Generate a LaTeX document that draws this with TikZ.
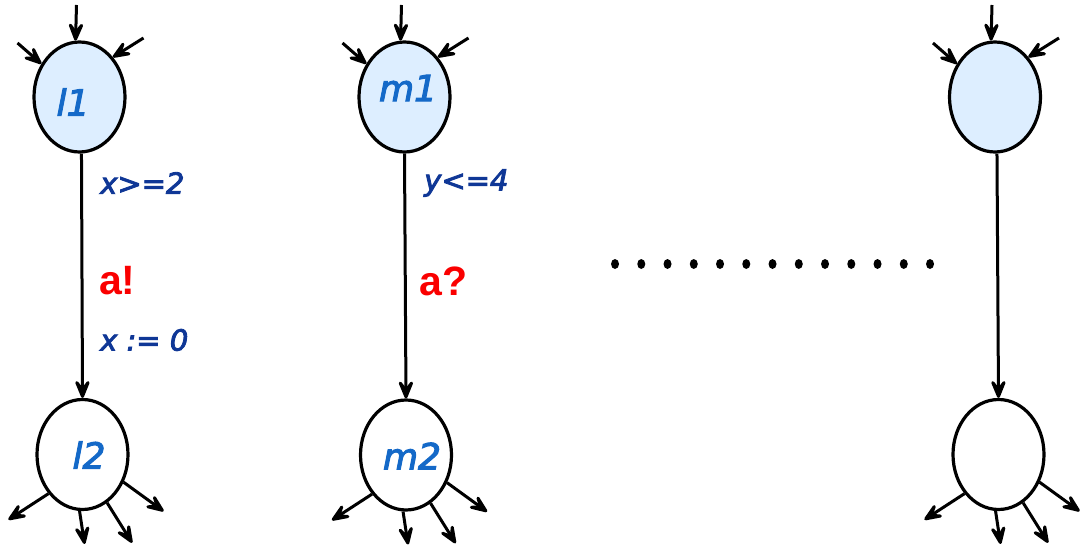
\documentclass[tikz,border=0pt]{standalone}
\usepackage{fontspec}
\setmainfont{DejaVu Sans}
\newfontfamily\labfont{DejaVu Sans Oblique}[FakeBold=3]
\newfontfamily\guardfont{DejaVu Sans Oblique}[FakeBold=3]
\newfontfamily\boldsans{Liberation Sans}
\usetikzlibrary{shapes.geometric,arrows.meta,calc}
\definecolor{locfill}{RGB}{221,238,255}
\definecolor{locblue}{RGB}{20,105,200}
\definecolor{guardblue}{RGB}{15,55,150}
\definecolor{syncred}{RGB}{250,0,0}
\tikzset{
  loc/.style={draw=black, ellipse, line width=3.2pt, minimum width=91pt, minimum height=110pt, inner sep=0pt},
  init/.style={loc, fill=locfill},
  loctext/.style={text=locblue, font=\labfont\fontsize{36}{40}\selectfont, inner sep=0pt},
  guard/.style={text=guardblue, font=\guardfont\fontsize{29}{34}\selectfont, inner sep=0pt, anchor=west},
  sync/.style={text=syncred, font=\boldsans\bfseries\fontsize{41}{46}\selectfont, inner sep=0pt, anchor=west},
  arr/.style={line width=3pt, -{Stealth[length=27pt,width=22pt,inset=14pt,round]}},
  dot/.style={fill=black, ellipse, inner sep=0pt, minimum width=8pt, minimum height=10pt}
}
\begin{document}
\begin{tikzpicture}[x=1pt,y=-1pt]
\useasboundingbox (0,0) rectangle (1087,548);
% column 1
\node[init] (l1) at (79.5,97) {};
\node[loc]  (l2) at (82.5,454.5) {};
\node[loctext] (l1t) at (73,102) {l1};
\node[loctext] (l2t) at (89,455) {l2};
% column 2
\node[init] (m1) at (404.5,97) {};
\node[loc]  (m2) at (406,455) {};
\node[loctext] (m1t) at (408,88) {m1};
\node[loctext] (m2t) at (412,456) {m2};
% column 3
\node[init] (n1) at (995,97) {};
\node[loc]  (n2) at (998.5,454.5) {};
% transitions
\draw[arr] (l1.-88) -- (l2.north);
\draw[arr] (m1.-90) -- (m2.north);
\draw[arr] (n1.-88) -- (n2.north);
% labels
\node[guard] (g1) at (100,183) {x>=2};
\node[sync]  (s1) at (99,281) {a!};
\node[guard] (u1) at (100,340) {x := 0};
\node[guard] (g2) at (424,183) {y<=4};
\node[sync]  (s2) at (419,281) {a?};
% dots
\foreach \i in {0,...,12} {
  \node[dot] (d\i) at ({615+\i*26.25},264) {};
}
% incoming arrows
\foreach \n/\cx in {l1/79.5,m1/404.5,n1/995} {
  \coordinate (\n-a) at ({\cx-3},5);
  \coordinate (\n-b) at ({\cx-62},43);
  \coordinate (\n-c) at ({\cx+64},38);
  \draw[arr] (\n-a) -- (\n.94);
  \draw[arr] (\n-b) -- (\n.139);
  \draw[arr] (\n-c) -- (\n.50);
}
% outgoing arrows
\foreach \n in {l2,m2,n2} {
  \coordinate (\n-p) at ($(\n.-131)+(-40,26)$);
  \coordinate (\n-q) at ($(\n.-93)+(5,33)$);
  \coordinate (\n-r) at ($(\n.-63)+(25,40)$);
  \coordinate (\n-s) at ($(\n.-34)+(40,29)$);
  \draw[arr] (\n.-131) -- (\n-p);
  \draw[arr] (\n.-93) -- (\n-q);
  \draw[arr] (\n.-63) -- (\n-r);
  \draw[arr] (\n.-34) -- (\n-s);
}
\end{tikzpicture}
\end{document}
